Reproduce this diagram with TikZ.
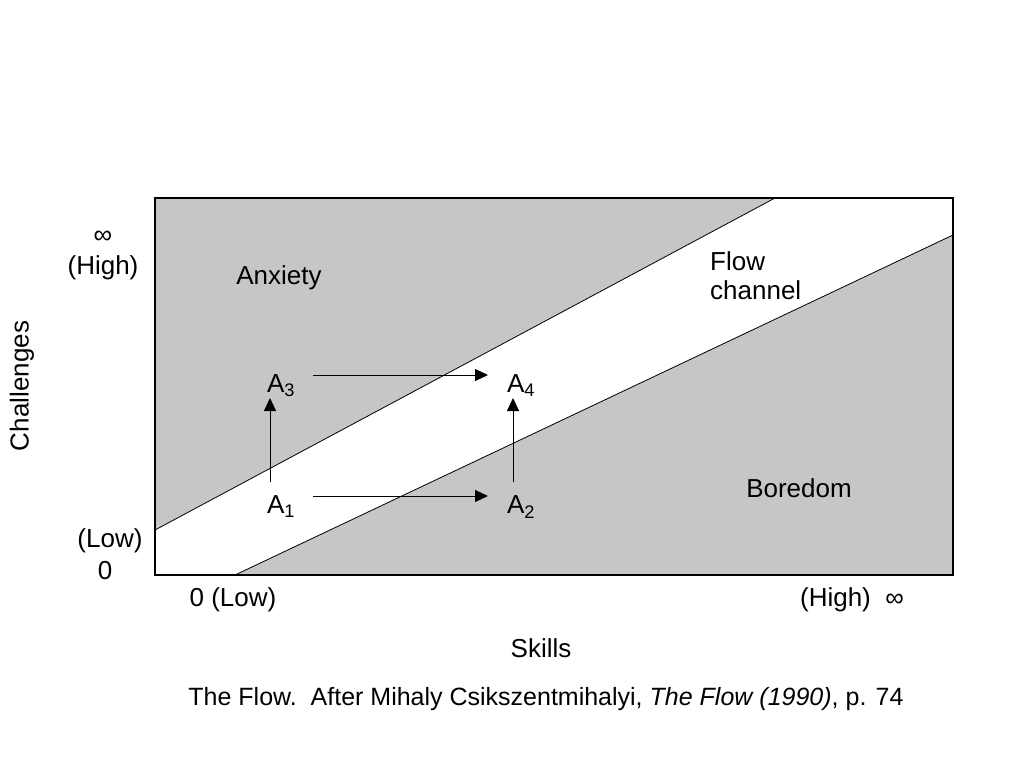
\documentclass[tikz,border=0pt]{standalone}
\usepackage{fontspec}
\setmainfont{Liberation Sans}
\usetikzlibrary{arrows.meta}
\begin{document}
\begin{tikzpicture}[x=1pt,y=-1pt,
  lab/.style={font=\fontsize{26}{29}\selectfont,inner sep=0pt},
  arr/.style={-{Triangle[length=13pt,width=12pt]},line width=0.9pt}]
\useasboundingbox (0,0) rectangle (1024,768);
\fill[gray!45] (155,198)--(775,198)--(155,530)--cycle;
\fill[gray!45] (235,575)--(953,235)--(953,575)--cycle;
\draw[line width=0.8pt] (155,530)--(775,198);
\draw[line width=0.8pt] (235,575)--(953,235);
\draw[line width=1.2pt] (155,198) rectangle (953,575);
\node[lab] (anx) at (279,278) {Anxiety};
\node[lab,align=left,anchor=west] (flow) at (710,276) {Flow\\channel};
\node[lab] (bor) at (799,488) {Boredom};
\node[lab] (a1) at (281,507) {A\textsubscript{1}};
\node[lab] (a2) at (521,507) {A\textsubscript{2}};
\node[lab] (a3) at (281,386) {A\textsubscript{3}};
\node[lab] (a4) at (521,386) {A\textsubscript{4}};
\coordinate (p1) at (313,496); \coordinate (p2) at (488,496);
\coordinate (p3) at (313,375); \coordinate (p4) at (488,375);
\coordinate (v1) at (270,482); \coordinate (v2) at (270,398);
\coordinate (v3) at (513,482); \coordinate (v4) at (513,398);
\draw[arr] (p1)--(p2);
\draw[arr] (p3)--(p4);
\draw[arr] (v1)--(v2);
\draw[arr] (v3)--(v4);
\node[lab] (inf1) at (103,237) {∞};
\node[lab] (hi) at (103,268) {(High)};
\node[lab] (lo) at (110,541) {(Low)};
\node[lab] (z) at (105,571) {0};
\node[lab,rotate=90] (ch) at (22,386) {Challenges};
\node[lab] (zl) at (233,600) {0 (Low)};
\node[lab] (hx) at (852,600) {(High)\ \ ∞};
\node[lab] (sk) at (541,648) {Skills};
\node[lab,font=\fontsize{25}{28}\selectfont] (cap) at (546,699) {The Flow.\ \ After Mihaly Csikszentmihalyi, \textit{The Flow (1990)}, p. 74};
\end{tikzpicture}
\end{document}
